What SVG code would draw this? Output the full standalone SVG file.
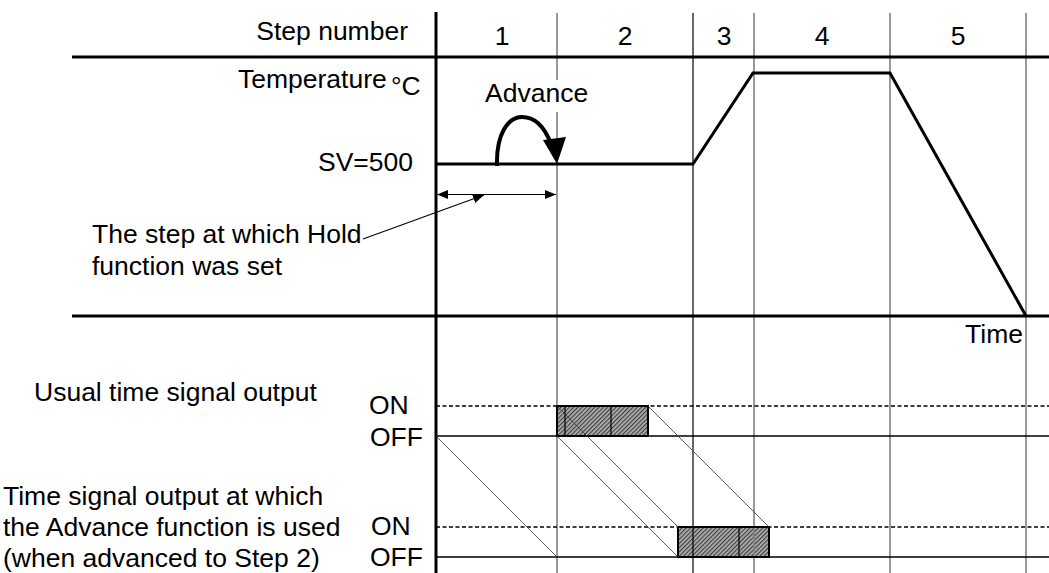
<svg xmlns="http://www.w3.org/2000/svg" width="1049" height="573" viewBox="0 0 1049 573">
<style>
text{font-family:"Liberation Sans",Arial,sans-serif;font-size:26.5px;fill:#000}
.ax{stroke:#000;stroke-width:3;fill:none}
.grid{stroke:#808080;stroke-width:1.6;fill:none}
.gridk{stroke:#000;stroke-width:1.2;fill:none}
.dash{stroke:#000;stroke-width:1.6;stroke-dasharray:4 2.5;fill:none}
.off{stroke:#000;stroke-width:1.6;fill:none}
.diag{stroke:#333;stroke-width:0.8;fill:none}
.box{stroke:#000;stroke-width:2;fill:none}
.inner{stroke:#000;stroke-width:1.2;fill:none}
.thin{stroke:#000;stroke-width:1.2;fill:none}
</style>
<defs>
<pattern id="hatch" width="3" height="3" patternUnits="userSpaceOnUse" patternTransform="rotate(45)">
<rect width="3" height="3" fill="#b0b0b0"/>
<line x1="0.6" y1="0" x2="0.6" y2="3" stroke="#404040" stroke-width="1.2"/>
</pattern>
<marker id="ah" markerUnits="userSpaceOnUse" markerWidth="12" markerHeight="10" refX="11" refY="4.5" orient="auto-start-reverse">
<path d="M0,0 L11,4.5 L0,9 z" fill="#000"/>
</marker>
</defs>
<rect width="1049" height="573" fill="#fff"/>

<g id="box-fills">
<rect x="557" y="406" width="91" height="30" fill="url(#hatch)"/>
<rect x="678" y="527" width="91" height="30" fill="url(#hatch)"/>
</g>

<g id="grid">
<line class="grid" x1="557" y1="13" x2="557" y2="80"/>
<line class="grid" x1="557" y1="112" x2="557" y2="573"/>
<line class="gridk" x1="693" y1="13" x2="693" y2="573"/>
<line class="grid" x1="754" y1="13" x2="754" y2="573"/>
<line class="grid" x1="890" y1="13" x2="890" y2="573"/>
<line class="grid" x1="1026" y1="13" x2="1026" y2="573"/>
<line class="ax" x1="72" y1="57" x2="1049" y2="57"/>
<line class="ax" x1="72" y1="316" x2="1049" y2="316"/>
<line class="ax" x1="436" y1="12" x2="436" y2="573"/>
<line class="dash" x1="436" y1="406" x2="1049" y2="406"/>
<line class="off" x1="436" y1="436" x2="1049" y2="436"/>
<line class="dash" x1="436" y1="527" x2="1049" y2="527"/>
<line class="off" x1="436" y1="557" x2="1049" y2="557"/>
</g>

<g id="profile">
<polyline class="ax" points="436,164 693,164 753,73 890,73 1026,316"/>
</g>

<g id="box-usual">
<rect class="box" x="557" y="406" width="91" height="30"/>
<line class="inner" x1="565" y1="406" x2="565" y2="436"/>
<line class="inner" x1="611" y1="406" x2="611" y2="436"/>
</g>
<g id="box-advance">
<rect class="box" x="678" y="527" width="91" height="30"/>
<line class="inner" x1="739" y1="527" x2="739" y2="557"/>
</g>

<g id="connectors">
<line class="diag" x1="436" y1="436" x2="557" y2="557"/>
<line class="diag" x1="557" y1="436" x2="678" y2="557"/>
<line class="diag" x1="557" y1="406" x2="678" y2="527"/>
<line class="diag" x1="648" y1="406" x2="769" y2="527"/>
<line class="thin" x1="437" y1="194.5" x2="556" y2="194.5" marker-start="url(#ah)" marker-end="url(#ah)"/>
<line class="thin" x1="363" y1="239" x2="484" y2="195" marker-end="url(#ah)"/>
<path d="M497,166 C496,134 508,117 522,117 C536,117 545,128 551,144" fill="none" stroke="#000" stroke-width="4"/>
<path d="M557,164 L543,140 L566,137 z" fill="#000"/>
</g>

<g id="labels">
<text x="408" y="40" text-anchor="end">Step number</text>
<text x="502" y="45" text-anchor="middle">1</text>
<text x="625" y="45" text-anchor="middle">2</text>
<text x="724" y="45" text-anchor="middle">3</text>
<text x="822" y="45" text-anchor="middle">4</text>
<text x="958" y="45" text-anchor="middle">5</text>
<text x="238" y="88">Temperature</text>
<text x="391" y="95">°C</text>
<text x="485" y="102">Advance</text>
<text x="413" y="171" text-anchor="end">SV=500</text>
<text x="92" y="243">The step at which Hold</text>
<text x="92" y="274.5">function was set</text>
<text x="1023" y="343" text-anchor="end">Time</text>
<text x="34" y="401">Usual time signal output</text>
<text x="369" y="414">ON</text>
<text x="370" y="446">OFF</text>
<text x="3" y="505">Time signal output at which</text>
<text x="3" y="536">the Advance function is used</text>
<text x="3" y="567">(when advanced to Step 2)</text>
<text x="371" y="535">ON</text>
<text x="370" y="566">OFF</text>
</g>
</svg>
